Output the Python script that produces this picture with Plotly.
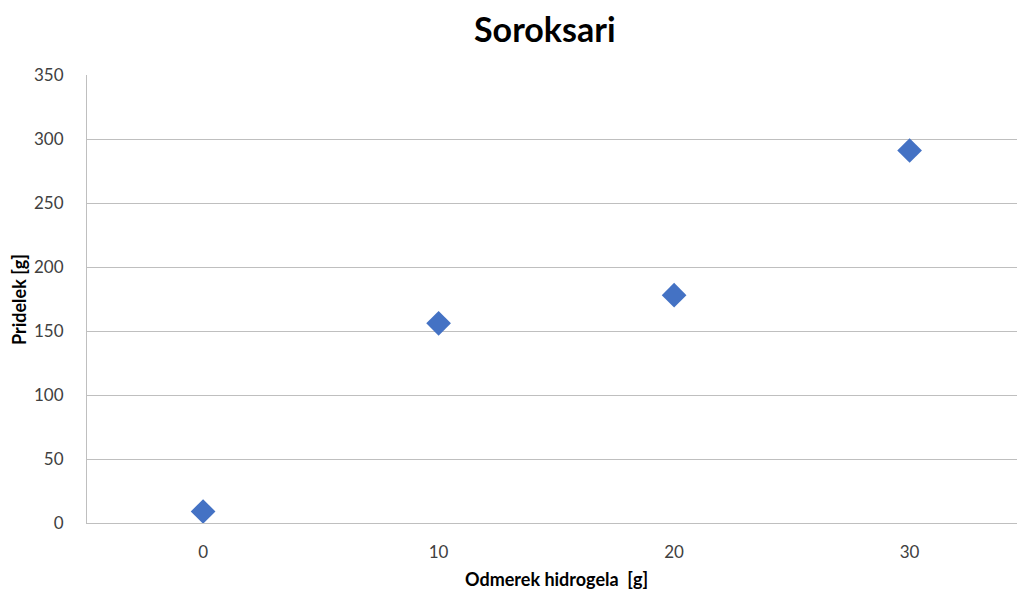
import plotly.graph_objects as go

# Hydrogel dose (g) and yield (g) for the Soroksari variety
odmerek = [0, 10, 20, 30]
pridelek = [9, 156, 178, 291]
y_ticks = [0, 50, 100, 150, 200, 250, 300, 350]

W, H = 1017, 589
ML, MR, MT, MB = 87, 0, 75, 66

fig = go.Figure()
fig.add_trace(go.Scatter(
    x=odmerek, y=pridelek, mode="markers",
    marker=dict(symbol="diamond", size=19, color="#4472C4",
                line=dict(width=0)),
    showlegend=False, cliponaxis=False,
))

fig.update_layout(
    width=W, height=H,
    margin=dict(l=ML, r=MR, t=MT, b=MB),
    paper_bgcolor="white", plot_bgcolor="white",
    font=dict(family="Lato, 'Open Sans', sans-serif", color="#404040", size=17),
    xaxis=dict(
        range=[-4.93, 34.56], tickvals=odmerek,
        ticktext=[str(v) for v in odmerek],
        showgrid=False, zeroline=False,
        showline=True, linecolor="#BFBFBF", linewidth=1,
        ticks="", ticklabelstandoff=14,
        tickfont=dict(size=17, color="#404040"),
    ),
    yaxis=dict(
        range=[0, 350], tickvals=y_ticks,
        showgrid=True, gridcolor="#BFBFBF", gridwidth=1,
        zeroline=False,
        showline=True, linecolor="#BFBFBF", linewidth=1,
        ticks="", ticklabelstandoff=19,
        tickfont=dict(size=17, color="#404040"),
    ),
    annotations=[
        dict(text="<b>Soroksari</b>", xref="paper", yref="paper",
             showarrow=False, xanchor="center", yanchor="middle",
             font=dict(size=34, color="#000000")),
        dict(text="<b>Odmerek hidrogela  [g]</b>",
             xref="paper", yref="paper", showarrow=False,
             xanchor="center", yanchor="middle",
             font=dict(size=18, color="#000000")),
        dict(text="<b>Pridelek [g]</b>",
             xref="paper", yref="paper", showarrow=False, textangle=-90,
             xanchor="center", yanchor="middle",
             font=dict(size=18, color="#000000")),
    ],
)

# text positions given in pixels: convert to paper coordinates
ann = list(fig.layout.annotations)
pw = W - ML - MR
ph = H - MT - MB
ann[0].x = (545 - ML) / pw
ann[0].y = (H - MB - 28) / ph
ann[1].x = (556 - ML) / pw
ann[1].y = -(579 - (H - MB)) / ph
ann[2].x = -(ML - 19) / pw
ann[2].y = (H - MB - 300) / ph
fig.layout.annotations = ann

fig.write_html("out.html")
